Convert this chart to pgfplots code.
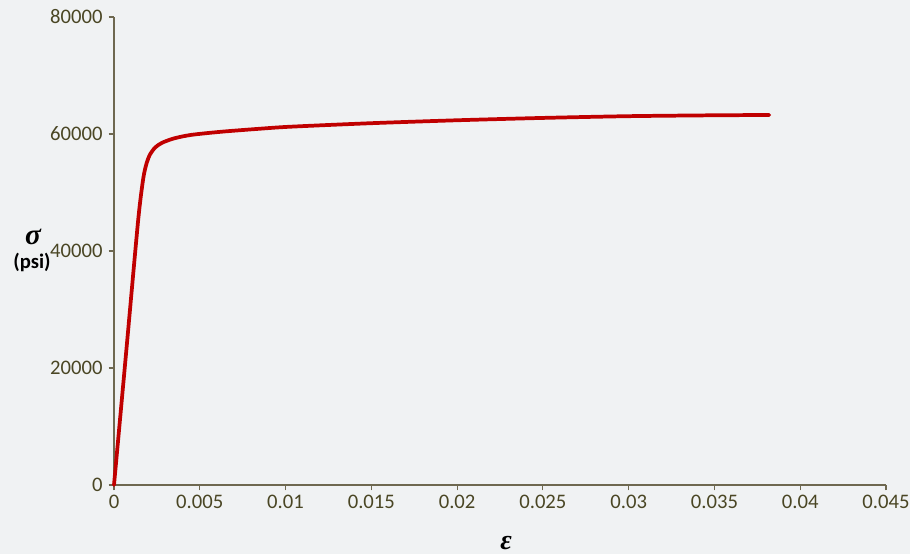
\documentclass[border=0pt]{standalone}
\usepackage{pgfplots}
\pgfplotsset{compat=1.18}
\usepackage{fontspec}
\setmainfont{Carlito}
\newfontfamily\greek{Liberation Serif}
\definecolor{bg}{RGB}{240,242,243}
\definecolor{axc}{RGB}{110,104,80}
\definecolor{txt}{RGB}{74,70,36}
\definecolor{curve}{RGB}{192,0,0}
\begin{document}
\begin{tikzpicture}[x=1pt,y=1pt]
\fill[bg] (0,0) rectangle (682.5,415.5);
\useasboundingbox (0,0) rectangle (682.5,415.5);
\begin{axis}[
  at={(85.5pt,51.75pt)}, anchor=south west,
  scale only axis, width=579pt, height=351pt,
  xmin=0, xmax=0.045, ymin=0, ymax=80000,
  axis lines*=left,
  axis line style={axc, line width=0.8pt, -},
  xtick={0,0.005,0.01,0.015,0.02,0.025,0.03,0.035,0.04,0.045},
  xticklabels={0,0.005,0.01,0.015,0.02,0.025,0.03,0.035,0.04,0.045},
  ytick={0,20000,40000,60000,80000},
  yticklabels={0,20000,40000,60000,80000},
  tick style={axc, line width=0.8pt},
  tick align=outside, major tick length=4pt,
  ticklabel style={font=\fontsize{15.5}{17}\selectfont, text=txt},
  xticklabel style={yshift=0pt},
  yticklabel style={xshift=-1pt},
  scaled ticks=false,
  clip=false,
]
\addplot[curve, line width=2.8pt, smooth, tension=0.45, line cap=round] coordinates {
(0,0) (0.0007,22400) (0.0014,45000) (0.0017,52300) (0.0019,55000) (0.0021,56500)
(0.0024,57700) (0.0028,58500) (0.0035,59250) (0.0045,59850) (0.0063,60400)
(0.0085,60900) (0.0103,61250) (0.015,61850) (0.02,62350) (0.025,62750)
(0.03,63050) (0.035,63200) (0.0382,63250)
};
\end{axis}
\node[text=black] at (24.75,238) {\fontsize{22}{24}\selectfont\greek\bfseries\itshape σ};
\node[text=black] at (24,219) {\fontsize{15.5}{17}\selectfont\bfseries (psi)};
\node[text=black] at (379.5,8) {\fontsize{21}{23}\selectfont\greek\bfseries\itshape ε};
\end{tikzpicture}
\end{document}
